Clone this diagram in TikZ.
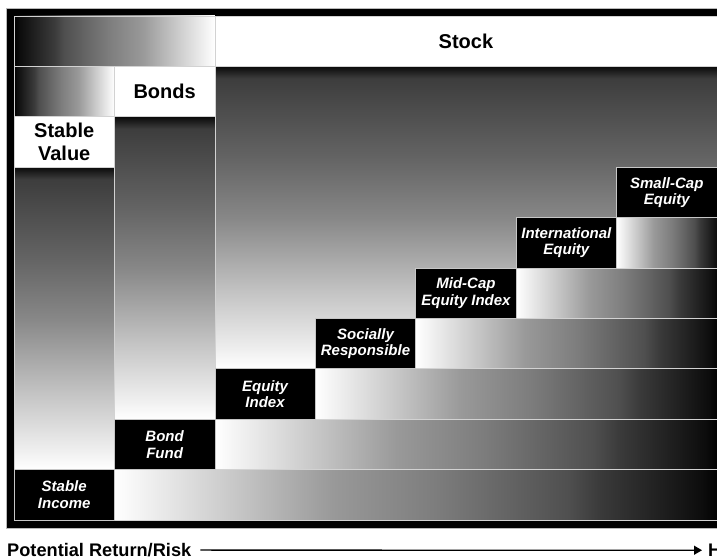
\documentclass[tikz,border=0pt]{standalone}
\usepackage{fontspec}
\setmainfont{Liberation Sans}
\usetikzlibrary{arrows.meta}
\pgfdeclareverticalshading{colshade}{100bp}{color(0bp)=(white); color(25bp)=(white); color(28bp)=(black!6); color(37.5bp)=(black!23); color(50bp)=(black!47); color(60bp)=(black!61); color(73bp)=(black!76); color(75bp)=(black!96); color(100bp)=(black!96)}
\pgfdeclarehorizontalshading{barshade}{100bp}{color(0bp)=(white); color(25bp)=(white); color(35bp)=(black!22); color(43bp)=(black!40); color(51.5bp)=(black!51); color(57bp)=(black!60); color(62.5bp)=(black!69); color(65bp)=(black!77); color(73.5bp)=(black!95); color(75bp)=(black); color(100bp)=(black)}
\begin{document}
\begin{tikzpicture}[x=1pt,y=-1pt,
  sep/.style={draw=gray!35, line width=0.7pt},
  vgrad/.style={shading=colshade, sep},
  hgrad/.style={shading=barshade, sep},
  rgrad/.style={shading=barshade, shading angle=180, sep},
  hdrbox/.style={fill=white, sep, text=black, inner sep=0pt, align=center,
    font=\bfseries\fontsize{20}{23}\selectfont},
  fundbox/.style={fill=black, draw=gray!45, line width=0.7pt, text=white, inner sep=0pt,
    align=center, minimum width=100.43pt, minimum height=50.4pt,
    font=\bfseries\itshape\fontsize{15}{16.5}\selectfont},
  axislabel/.style={anchor=base west, inner sep=0pt, font=\bfseries\fontsize{18.2}{20}\selectfont}]
\useasboundingbox (0,0) rectangle (717,559);
\clip (0,0) rectangle (717,559);
% outer frame
\draw[fill=black, draw=gray!55, line width=0.8pt] (6,8) rectangle (740,528);
% large vertical gradients
\shadedraw[vgrad] (214.86,66.4) rectangle (717,368.8);
\shadedraw[vgrad] (114.43,116.8) rectangle (214.86,419.2);
\shadedraw[vgrad] (14,167.2) rectangle (114.43,469.6);
% header gradients
\shadedraw[rgrad] (14,16) rectangle (214.86,66.4);
\shadedraw[rgrad] (14,66.4) rectangle (114.43,116.8);
% headers
\node[hdrbox, minimum width=502.14pt, minimum height=50.4pt] (stock) at (465.93,41.2) {Stock};
\node[hdrbox, minimum width=100.43pt, minimum height=50.4pt] (bonds) at (164.64,91.6) {Bonds};
\node[hdrbox, minimum width=100.43pt, minimum height=50.4pt] (stable) at (64.21,142) {Stable\\Value};
% horizontal bars
\shadedraw[hgrad] (616.57,217.6) rectangle (720,268);
\shadedraw[hgrad] (516.14,268) rectangle (720,318.4);
\shadedraw[hgrad] (415.71,318.4) rectangle (720,368.8);
\shadedraw[hgrad] (315.29,368.8) rectangle (720,419.2);
\shadedraw[hgrad] (214.86,419.2) rectangle (720,469.6);
\shadedraw[hgrad] (114.43,469.6) rectangle (720,520);
% fund boxes
\node[fundbox] (smallcap) at (666.79,192.4) {Small-Cap\\Equity};
\node[fundbox] (intl) at (566.36,242.8) {International\\Equity};
\node[fundbox] (midcap) at (465.93,293.2) {Mid-Cap\\Equity Index};
\node[fundbox] (social) at (365.5,343.6) {Socially\\Responsible};
\node[fundbox] (eqindex) at (265.07,394) {Equity\\Index};
\node[fundbox] (bondfund) at (164.64,444.4) {Bond\\Fund};
\node[fundbox] (stableinc) at (64.21,494.8) {Stable\\Income};
% axis
\node[axislabel] (prr) at (7,556.5) {Potential Return/Risk};
\node[axislabel] (hi) at (708,556.5) {H};
\draw[line width=1.3pt, -{Triangle[length=8pt,width=9pt]}, shorten <=9pt, shorten >=6pt] (prr.east) -- (hi.west);
\end{tikzpicture}
\end{document}
